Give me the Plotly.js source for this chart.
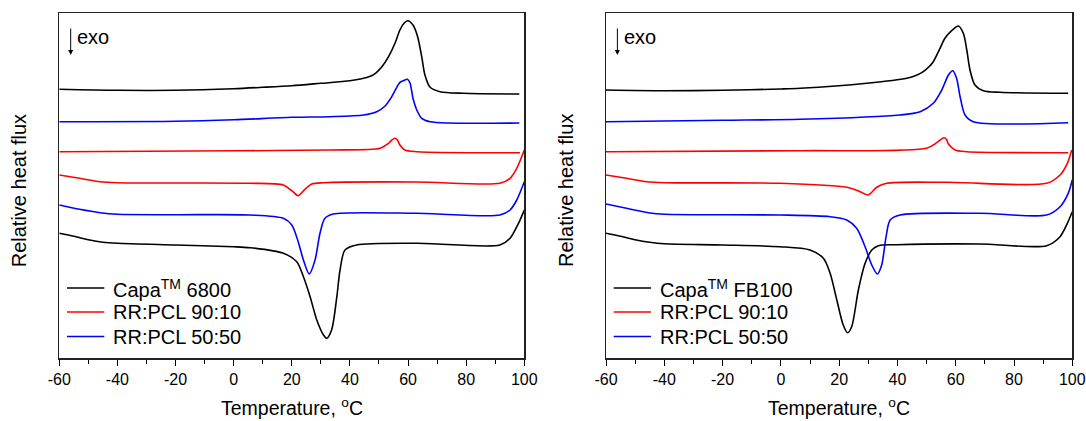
<!DOCTYPE html>
<html>
<head>
<meta charset="utf-8">
<script src="https://cdn.plot.ly/plotly-3.0.1.min.js"></script>
<style>html,body{margin:0;padding:0;background:#fff}#chart{width:1086px;height:421px}</style>
</head>
<body>
<div id="chart"></div>
<script>
// ---------- Left panel: Capa 6800 ----------
const L_capaHeat_T = [-60,-40,-20,0,10,20,30,40,44,47,49,51,53.3,55.5,57.2,58.6,59.9,61.7,63.3,64.7,65.8,67.6,71,79,98.3];
const L_capaHeat_Q = [269,268,268,269.6,271,272.6,275,277.5,279.5,282,285.5,291.5,301.6,315,328.3,335,337.6,333.3,321.6,301.6,283.3,271,266.6,265,264.3];
const L_b5050Heat_T = [-60,-20,0,20,33,44.7,49.2,52.1,54.4,56.1,57.2,58.4,59.8,60.7,61.7,63,64.7,67.6,98.3];
const L_b5050Heat_Q = [236.6,237,238.5,241,241.6,243.3,246.6,252.3,261.6,271,276,277.6,279,275,260,248.3,240,236.6,235.3];
const L_b9010Heat_T = [-60,0,33,50.4,53.3,54.5,55.5,56.3,57.2,58.9,63,98.5];
const L_b9010Heat_Q = [206.6,207.5,208.3,210,215,218.5,220,218.5,213.3,208.3,206.6,205.6];
const L_b9010Cool_T = [-60,-53,-46,-40,-20,5.6,17.1,20,22.2,24.5,26.9,30.8,63,91.6,95.1,97.4,99.1,100];
const L_b9010Cool_Q = [183.3,180,176.6,175.6,175.3,175,173.3,167.6,162.6,169,174.3,175.6,176.3,175,180,190,201.6,208.3];
const L_b5050Cool_T = [-60,-53,-46,-40,-20,5.6,17.1,20,22.2,24,26,28,29.7,31.4,34.3,63,91.6,95.1,97.4,100];
const L_b5050Cool_Q = [153.3,149,145.6,144,143.6,143.3,140,133.3,116.6,98.3,84.3,98.3,125,140,144.3,145,143.3,148.3,158.3,176.6];
const L_capaCool_T = [-60,-55,-50,-45,-40,-20,0,5.6,17.1,21.7,24,26.3,28.6,30.9,32,33.7,35.5,36.6,38.3,42.3,63,91.6,95.1,98,100];
const L_capaCool_Q = [125,122,118.5,116,115,113.3,111.6,110.6,105,96.6,81.6,61.6,38.3,23.3,20,28.3,61.6,88.3,108.3,113.3,115,113.3,120,135,148.3];

// ---------- Right panel: Capa FB100 ----------
const R_capaHeat_T = [-60,-40,-20,0,6.6,29.5,43.2,46.5,49,51,52.3,54.6,56.3,58.6,60.9,62.6,63.8,64.9,66.6,69.5,75.2,98.6];
const R_capaHeat_Q = [268.3,267.6,268,269.3,270,275,280,283,287,292,296.6,310,320,327.6,332.3,325,308.3,288.3,273.3,267.6,266,265];
const R_b5050Heat_T = [-60,-20,6.6,40.9,47.8,52.3,55.2,57.5,59,60.3,61.5,63.2,66,98.6];
const R_b5050Heat_Q = [236.6,238,239,243.3,246.6,255,268.3,283.3,287.6,280,261.6,243.3,236.6,235.6];
const R_b9010Heat_T = [-60,6.6,50,53.5,55,56,56.8,57.5,59.8,63.8,98.6];
const R_b9010Heat_Q = [206.6,207.6,210,215.6,219,220.6,219,214.3,208.3,206.6,205.6];
const R_b9010Cool_T = [-60,-53,-46,-40,-0.3,22.6,27.2,30,32.9,36.3,56.9,91.2,95.8,98.3,99.8];
const R_b9010Cool_Q = [183.3,180,176.6,175.6,175,171,166.6,163.3,171,175,176,175,183.3,195,208.3];
const R_b5050Cool_T = [-60,-53,-45,-40,-0.3,16.9,22.6,26,28.9,31.2,33.1,34.6,36.1,37.5,40.9,68.3,91.2,95.8,98.6,100];
const R_b5050Cool_Q = [154.3,150,145.3,144,143.3,141.6,138.3,130,111.6,93.3,84.3,93.3,121.6,138.3,143.3,145,143.3,151.6,165,178.3];
const R_capaCool_T = [-60,-55,-50,-45,-40,-20,-0.3,10,14.6,16.9,19.2,21.4,22.9,24.3,26.6,28.9,31.2,33.5,39.8,68.3,91.2,95.8,98.3,100];
const R_capaCool_Q = [125,122,118.5,116,114.5,113.3,111.6,108.3,100,85,58.3,33.3,25.6,31.6,68.3,95,108.3,112.6,113.6,114.3,112.6,121.6,135,146.6];

const legendNamesL = ['Capa<sup>TM</sup> 6800','RR:PCL 90:10','RR:PCL 50:50'];
const legendNamesR = ['Capa<sup>TM</sup> FB100','RR:PCL 90:10','RR:PCL 50:50'];
const xTickVals = [-60,-40,-20,0,20,40,60,80,100];
const xTickText = ['-60','-40','-20','0','20','40','60','80','100'];

const BLACK='#000000', RED='#ff0000', BLUE='#0000ff';
const COLORS=[BLACK,RED,BLUE];
const FONT='Liberation Sans, Arial, sans-serif';

function tr(x,y,color,name,xa,ya){
  return {x:x,y:y,type:'scatter',mode:'lines',name:name,showlegend:false,
    xaxis:xa,yaxis:ya,
    line:{color:color,width:1.6,shape:'spline',smoothing:0.8},hoverinfo:'skip'};
}

const data = [
  tr(L_capaHeat_T,L_capaHeat_Q,BLACK,legendNamesL[0],'x','y'),
  tr(L_b9010Heat_T,L_b9010Heat_Q,RED,legendNamesL[1],'x','y'),
  tr(L_b5050Heat_T,L_b5050Heat_Q,BLUE,legendNamesL[2],'x','y'),
  tr(L_capaCool_T,L_capaCool_Q,BLACK,legendNamesL[0],'x','y'),
  tr(L_b9010Cool_T,L_b9010Cool_Q,RED,legendNamesL[1],'x','y'),
  tr(L_b5050Cool_T,L_b5050Cool_Q,BLUE,legendNamesL[2],'x','y'),
  tr(R_capaHeat_T,R_capaHeat_Q,BLACK,legendNamesR[0],'x2','y2'),
  tr(R_b9010Heat_T,R_b9010Heat_Q,RED,legendNamesR[1],'x2','y2'),
  tr(R_b5050Heat_T,R_b5050Heat_Q,BLUE,legendNamesR[2],'x2','y2'),
  tr(R_capaCool_T,R_capaCool_Q,BLACK,legendNamesR[0],'x2','y2'),
  tr(R_b9010Cool_T,R_b9010Cool_Q,RED,legendNamesR[1],'x2','y2'),
  tr(R_b5050Cool_T,R_b5050Cool_Q,BLUE,legendNamesR[2],'x2','y2')
];

const W=1086,H=421;
const px=v=>v/W, py=v=>(H-v)/H;

function xax(dom){
  return {domain:dom,range:[-60,100],tickmode:'array',tickvals:xTickVals,ticktext:xTickText,
    ticks:'outside',ticklen:6,tickwidth:1,tickcolor:'#000',
    minor:{tickmode:'linear',tick0:-60,dtick:10,ticks:'outside',ticklen:4,tickwidth:1,tickcolor:'#000',showgrid:false},
    showline:true,mirror:true,linecolor:'#222',linewidth:1.5,showgrid:false,zeroline:false,
    tickfont:{family:FONT,size:16,color:'#000'},fixedrange:true};
}
function yax(dom){
  return {domain:dom,range:[0,345],showticklabels:false,ticks:'',showline:true,mirror:true,
    linecolor:'#222',linewidth:1.5,showgrid:false,zeroline:false,fixedrange:true};
}
const yDom=[py(358.3),py(13.3)];

const panels=[{left:59.3,right:524.3,names:legendNamesL,xa:'x'},{left:606,right:1072.3,names:legendNamesR,xa:'x2'}];
const legendRows=[288,312,336.5];

const annotations=[], shapes=[];
panels.forEach(p=>{
  annotations.push({xref:p.xa+' domain',yref:'paper',x:0.5,y:py(407),xanchor:'center',yanchor:'middle',
    text:'Temperature, <sup>o</sup>C',showarrow:false,font:{size:19.5,family:FONT,color:'#000'}});
  annotations.push({xref:'paper',yref:'paper',x:px(p.left-40),y:py(191),xanchor:'center',yanchor:'middle',
    text:'Relative heat flux',textangle:-90,showarrow:false,font:{size:20,family:FONT,color:'#000'}});
  annotations.push({xref:'paper',yref:'paper',x:px(p.left+15.5),y:py(37.5),xanchor:'left',yanchor:'middle',
    text:'exo',showarrow:false,font:{size:20,family:FONT,color:'#000'}});
  annotations.push({xref:'paper',yref:'paper',x:px(p.left+11.4),y:py(55),ax:0,ay:-28,text:'',showarrow:true,
    arrowhead:2,arrowsize:1,arrowwidth:1,arrowcolor:'#000',standoff:0});
  p.names.forEach((nm,i)=>{
    shapes.push({type:'line',xref:'paper',yref:'paper',x0:px(p.left+7.7),x1:px(p.left+45),
      y0:py(legendRows[i]),y1:py(legendRows[i]),line:{color:COLORS[i],width:1.6}});
    annotations.push({xref:'paper',yref:'paper',x:px(p.left+51.5),y:py(legendRows[i]),xanchor:'left',yanchor:'middle',
      text:nm,showarrow:false,font:{size:20,family:FONT,color:'#000'}});
  });
});

const layout = {
  width:W,height:H,margin:{l:0,r:0,t:0,b:0},paper_bgcolor:'#fff',plot_bgcolor:'#fff',
  font:{family:FONT,color:'#000'},showlegend:false,
  xaxis:xax([px(59.3),px(524.3)]), yaxis:yax(yDom),
  xaxis2:Object.assign(xax([px(606),px(1072.3)]),{anchor:'y2'}), yaxis2:Object.assign(yax(yDom),{anchor:'x2'}),
  annotations:annotations, shapes:shapes
};

Plotly.newPlot('chart',data,layout,{staticPlot:true,displayModeBar:false});
</script>
</body>
</html>
